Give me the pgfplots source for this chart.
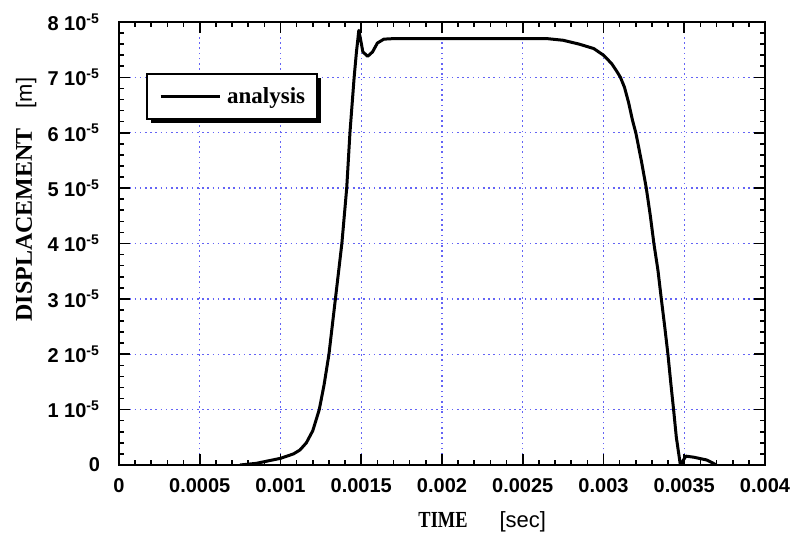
\documentclass[border=0pt]{standalone}
\usepackage{pgfplots}
\pgfplotsset{compat=1.18}
\usepackage{fontspec}
\setmainfont{Liberation Serif}
\setsansfont{Liberation Sans}
\usetikzlibrary{shadows}
\definecolor{gridblue}{RGB}{100,100,245}
\begin{document}
\begin{tikzpicture}
\useasboundingbox (-59.5pt,-37pt) rectangle (337pt,232.5pt);
\begin{axis}[
  scale only axis,
  width=323pt, height=221.5pt,
  xmin=0, xmax=0.004, ymin=0, ymax=8e-5,
  scaled x ticks=false, scaled y ticks=false,
  xtick={0,0.0005,0.001,0.0015,0.002,0.0025,0.003,0.0035,0.004},
  xticklabels={0,0.0005,0.001,0.0015,0.002,0.0025,0.003,0.0035,0.004},
  ytick={0,1e-5,2e-5,3e-5,4e-5,5e-5,6e-5,7e-5,8e-5},
  yticklabels={0,1 10\textsuperscript{-5},2 10\textsuperscript{-5},3 10\textsuperscript{-5},4 10\textsuperscript{-5},5 10\textsuperscript{-5},6 10\textsuperscript{-5},7 10\textsuperscript{-5},8 10\textsuperscript{-5}},
  minor x tick num=4, minor y tick num=4,
  tick align=inside,
  major tick length=5.5pt, minor tick length=2.7pt,
  every tick/.style={black, line width=0.8pt},
  axis line style={line width=1pt},
  grid=major,
  major grid style={gridblue, line width=0.7pt, dash pattern=on 0.8pt off 1.8pt},
  tick label style={font=\sffamily\bfseries\fontsize{10}{12}\selectfont},
  xticklabel style={yshift=-3pt},
  yticklabel style={anchor=east, xshift=-6pt},
  xlabel={\scalebox{0.8}[1]{\bfseries\fontsize{11.5}{13}\selectfont TIME}\hspace{16pt}{\sffamily\fontsize{11}{13}\selectfont [sec]}},
  x label style={at={(axis description cs:0.463,0)}, anchor=base west, yshift=-31.3pt, inner sep=0pt},
  ylabel={{\bfseries\fontsize{12}{14}\selectfont DISPLACEMENT}\hspace{10pt}{\sffamily\fontsize{11}{13}\selectfont [m]}},
  y label style={at={(axis description cs:-0.1347,0.323)}, anchor=base west, inner sep=0pt},
  legend style={at={(axis description cs:0.0418,0.884)}, anchor=north west, draw=black, line width=1pt, fill=white,
    drop shadow={shadow xshift=2pt, shadow yshift=-2pt, opacity=1, fill=black},
    inner xsep=6pt, inner ysep=6.5pt, nodes={inner sep=0pt},
    font=\bfseries\fontsize{11.5}{13}\selectfont,
    /tikz/every odd column/.append style={column sep=3pt}},
  legend image code/.code={%
    \pgfpathmoveto{\pgfpoint{0pt}{0pt}}%
    \pgfpathlineto{\pgfpoint{29.5pt}{0pt}}%
    \pgfsetlinewidth{1.6pt}\pgfsetstrokecolor{black}%
    \pgfusepath{stroke}},
]
\addplot[black, line width=1.5pt, line join=round] coordinates {
(0.00075,0) (0.00085,0.03e-5) (0.00095,0.09e-5) (0.00100,0.12e-5) (0.00105,0.17e-5)
(0.00108,0.20e-5) (0.00112,0.27e-5) (0.00116,0.40e-5) (0.00120,0.62e-5) (0.00124,1.00e-5)
(0.00127,1.45e-5) (0.00130,2.00e-5) (0.00134,3.00e-5) (0.00138,4.00e-5) (0.00141,5.00e-5)
(0.00143,6.00e-5) (0.001456,7.00e-5) (0.00147,7.45e-5) (0.001485,7.85e-5) (0.00150,7.62e-5)
(0.00151,7.46e-5) (0.00154,7.38e-5) (0.00157,7.46e-5) (0.00160,7.62e-5) (0.00164,7.69e-5)
(0.00170,7.70e-5) (0.00200,7.70e-5) (0.00250,7.70e-5) (0.00265,7.70e-5) (0.00275,7.67e-5)
(0.00285,7.60e-5) (0.00294,7.52e-5) (0.00300,7.40e-5) (0.00305,7.25e-5) (0.00308,7.12e-5)
(0.003105,7.00e-5) (0.00313,6.82e-5) (0.003155,6.55e-5) (0.00318,6.22e-5) (0.00320,6.00e-5)
(0.003234,5.50e-5) (0.003265,5.00e-5) (0.00329,4.50e-5)
(0.003312,4.00e-5) (0.003337,3.52e-5) (0.003358,3.00e-5) (0.003379,2.50e-5) (0.003399,2.00e-5)
(0.003416,1.50e-5) (0.003434,1.00e-5) (0.003451,0.50e-5) (0.003476,0) (0.00351,0.16e-5)
(0.00356,0.14e-5) (0.00364,0.09e-5) (0.00370,0)
};
\addlegendentry{analysis}
\end{axis}
\end{tikzpicture}
\end{document}
